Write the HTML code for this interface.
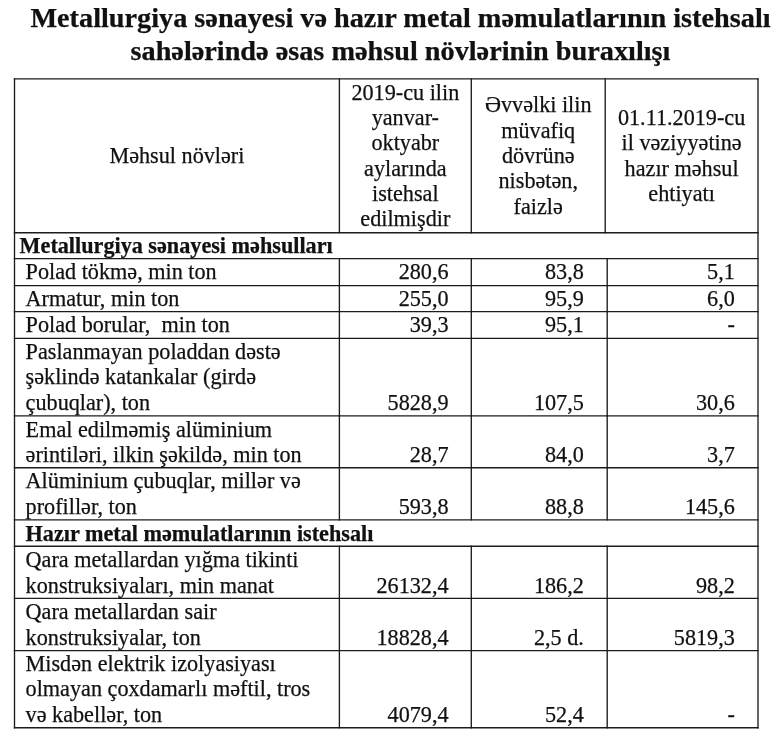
<!DOCTYPE html>
<html lang="az"><head><meta charset="utf-8"><title>Metallurgiya sənayesi</title>
<style>
html,body{margin:0;padding:0;background:#fff;}
#w{position:absolute;left:0;top:0;width:780px;height:751px;filter:blur(0.45px);}
body{width:780px;height:751px;position:relative;overflow:hidden;font-family:"Liberation Serif","DejaVu Serif",serif;color:#111;font-size:22.2px;line-height:25.35px;-webkit-text-stroke:0.25px #111;}
.t{position:absolute;left:10.5px;width:780px;text-align:center;font-weight:bold;font-size:28.25px;line-height:32.6px;white-space:nowrap;}
svg{position:absolute;left:0;top:0;}
.c{position:absolute;white-space:nowrap;}
.hd{text-align:center;}
.n{text-align:right;}
.b{font-weight:bold;}
</style></head><body><div id="w">
<div class="t" style="top:2.0px">Metallurgiya sənayesi və hazır metal məmulatlarının istehsalı<br>sahələrində əsas məhsul növlərinin buraxılışı</div>
<svg width="780" height="751" viewBox="0 0 780 751" fill="none" stroke="#1c1c1c" stroke-width="1.35" stroke-linecap="square">
<line x1="14.5" y1="78.8" x2="758.0" y2="78.8"/>
<line x1="14.5" y1="232.7" x2="758.0" y2="232.7"/>
<line x1="14.5" y1="258.6" x2="758.0" y2="258.6"/>
<line x1="14.5" y1="285.6" x2="758.0" y2="285.6"/>
<line x1="14.5" y1="311.6" x2="758.0" y2="311.6"/>
<line x1="14.5" y1="338.4" x2="758.0" y2="338.4"/>
<line x1="14.5" y1="415.9" x2="758.0" y2="415.9"/>
<line x1="14.5" y1="467.7" x2="758.0" y2="467.7"/>
<line x1="14.5" y1="519.9" x2="758.0" y2="519.9"/>
<line x1="14.5" y1="546.2" x2="758.0" y2="546.2"/>
<line x1="14.5" y1="598.4" x2="758.0" y2="598.4"/>
<line x1="14.5" y1="650.6" x2="758.0" y2="650.6"/>
<line x1="14.5" y1="727.7" x2="758.0" y2="727.7"/>
<line x1="14.5" y1="78.8" x2="14.5" y2="727.7"/>
<line x1="758.0" y1="78.8" x2="758.0" y2="727.7"/>
<line x1="339.4" y1="78.8" x2="339.4" y2="232.7"/>
<line x1="471.3" y1="78.8" x2="471.3" y2="232.7"/>
<line x1="605.2" y1="78.8" x2="605.2" y2="232.7"/>
<line x1="339.4" y1="258.6" x2="339.4" y2="285.6"/>
<line x1="471.3" y1="258.6" x2="471.3" y2="285.6"/>
<line x1="607.2" y1="258.6" x2="607.2" y2="285.6"/>
<line x1="339.4" y1="285.6" x2="339.4" y2="311.6"/>
<line x1="471.3" y1="285.6" x2="471.3" y2="311.6"/>
<line x1="607.2" y1="285.6" x2="607.2" y2="311.6"/>
<line x1="339.4" y1="311.6" x2="339.4" y2="338.4"/>
<line x1="471.3" y1="311.6" x2="471.3" y2="338.4"/>
<line x1="607.2" y1="311.6" x2="607.2" y2="338.4"/>
<line x1="339.4" y1="338.4" x2="339.4" y2="415.9"/>
<line x1="471.3" y1="338.4" x2="471.3" y2="415.9"/>
<line x1="607.2" y1="338.4" x2="607.2" y2="415.9"/>
<line x1="339.4" y1="415.9" x2="339.4" y2="467.7"/>
<line x1="471.3" y1="415.9" x2="471.3" y2="467.7"/>
<line x1="607.2" y1="415.9" x2="607.2" y2="467.7"/>
<line x1="339.4" y1="467.7" x2="339.4" y2="519.9"/>
<line x1="471.3" y1="467.7" x2="471.3" y2="519.9"/>
<line x1="607.2" y1="467.7" x2="607.2" y2="519.9"/>
<line x1="339.4" y1="546.2" x2="339.4" y2="598.4"/>
<line x1="471.3" y1="546.2" x2="471.3" y2="598.4"/>
<line x1="607.2" y1="546.2" x2="607.2" y2="598.4"/>
<line x1="339.4" y1="598.4" x2="339.4" y2="650.6"/>
<line x1="471.3" y1="598.4" x2="471.3" y2="650.6"/>
<line x1="607.2" y1="598.4" x2="607.2" y2="650.6"/>
<line x1="339.4" y1="650.6" x2="339.4" y2="727.7"/>
<line x1="471.3" y1="650.6" x2="471.3" y2="727.7"/>
<line x1="607.2" y1="650.6" x2="607.2" y2="727.7"/>
</svg>
<div class="c hd" style="left:14.50px;top:142.90px;width:324.90px">Məhsul növləri</div>
<div class="c hd" style="left:339.40px;top:79.50px;width:131.90px">2019-cu ilin<br>yanvar-<br>oktyabr<br>aylarında<br>istehsal<br>edilmişdir</div>
<div class="c hd" style="left:471.30px;top:92.30px;width:133.90px">Əvvəlki ilin<br>müvafiq<br>dövrünə<br>nisbətən,<br>faizlə</div>
<div class="c hd" style="left:605.20px;top:104.90px;width:152.80px">01.11.2019-cu<br>il vəziyyətinə<br>hazır məhsul<br>ehtiyatı</div>
<div class="c b" style="left:19.6px;top:233.20px">Metallurgiya sənayesi məhsulları</div>
<div class="c" style="left:25.6px;top:259.20px">Polad tökmə, min ton</div>
<div class="c n" style="left:328.60px;width:120px;top:259.20px">280,6</div>
<div class="c n" style="left:463.80px;width:120px;top:259.20px">83,8</div>
<div class="c n" style="left:614.80px;width:120px;top:259.20px">5,1</div>
<div class="c" style="left:25.6px;top:285.80px">Armatur, min ton</div>
<div class="c n" style="left:328.60px;width:120px;top:285.80px">255,0</div>
<div class="c n" style="left:463.80px;width:120px;top:285.80px">95,9</div>
<div class="c n" style="left:614.80px;width:120px;top:285.80px">6,0</div>
<div class="c" style="left:25.6px;top:312.20px">Polad borular,&nbsp; min ton</div>
<div class="c n" style="left:328.60px;width:120px;top:312.20px">39,3</div>
<div class="c n" style="left:463.80px;width:120px;top:312.20px">95,1</div>
<div class="c n" style="left:614.80px;width:120px;top:312.20px">-</div>
<div class="c" style="left:25.6px;top:338.90px">Paslanmayan poladdan dəstə</div>
<div class="c" style="left:25.6px;top:364.10px">şəklində katankalar (girdə</div>
<div class="c" style="left:25.6px;top:389.70px">çubuqlar), ton</div>
<div class="c n" style="left:328.60px;width:120px;top:389.70px">5828,9</div>
<div class="c n" style="left:463.80px;width:120px;top:389.70px">107,5</div>
<div class="c n" style="left:614.80px;width:120px;top:389.70px">30,6</div>
<div class="c" style="left:25.6px;top:416.70px">Emal edilməmiş alüminium</div>
<div class="c" style="left:25.6px;top:441.90px">ərintiləri, ilkin şəkildə, min ton</div>
<div class="c n" style="left:328.60px;width:120px;top:441.90px">28,7</div>
<div class="c n" style="left:463.80px;width:120px;top:441.90px">84,0</div>
<div class="c n" style="left:614.80px;width:120px;top:441.90px">3,7</div>
<div class="c" style="left:25.6px;top:467.90px">Alüminium çubuqlar, millər və</div>
<div class="c" style="left:25.6px;top:493.70px">profillər, ton</div>
<div class="c n" style="left:328.60px;width:120px;top:493.70px">593,8</div>
<div class="c n" style="left:463.80px;width:120px;top:493.70px">88,8</div>
<div class="c n" style="left:614.80px;width:120px;top:493.70px">145,6</div>
<div class="c b" style="left:25.6px;top:521.20px">Hazır metal məmulatlarının istehsalı</div>
<div class="c" style="left:25.6px;top:546.90px">Qara metallardan yığma tikinti</div>
<div class="c" style="left:25.6px;top:572.70px">konstruksiyaları, min manat</div>
<div class="c n" style="left:328.60px;width:120px;top:572.70px">26132,4</div>
<div class="c n" style="left:463.80px;width:120px;top:572.70px">186,2</div>
<div class="c n" style="left:614.80px;width:120px;top:572.70px">98,2</div>
<div class="c" style="left:25.6px;top:598.70px">Qara metallardan sair</div>
<div class="c" style="left:25.6px;top:624.90px">konstruksiyalar, ton</div>
<div class="c n" style="left:328.60px;width:120px;top:624.90px">18828,4</div>
<div class="c n" style="left:463.80px;width:120px;top:624.90px">2,5 d.</div>
<div class="c n" style="left:614.80px;width:120px;top:624.90px">5819,3</div>
<div class="c" style="left:25.6px;top:651.10px">Misdən elektrik izolyasiyası</div>
<div class="c" style="left:25.6px;top:676.10px">olmayan çoxdamarlı məftil, tros</div>
<div class="c" style="left:25.6px;top:701.70px">və kabellər, ton</div>
<div class="c n" style="left:328.60px;width:120px;top:701.70px">4079,4</div>
<div class="c n" style="left:463.80px;width:120px;top:701.70px">52,4</div>
<div class="c n" style="left:614.80px;width:120px;top:701.70px">-</div>
</div></body></html>
